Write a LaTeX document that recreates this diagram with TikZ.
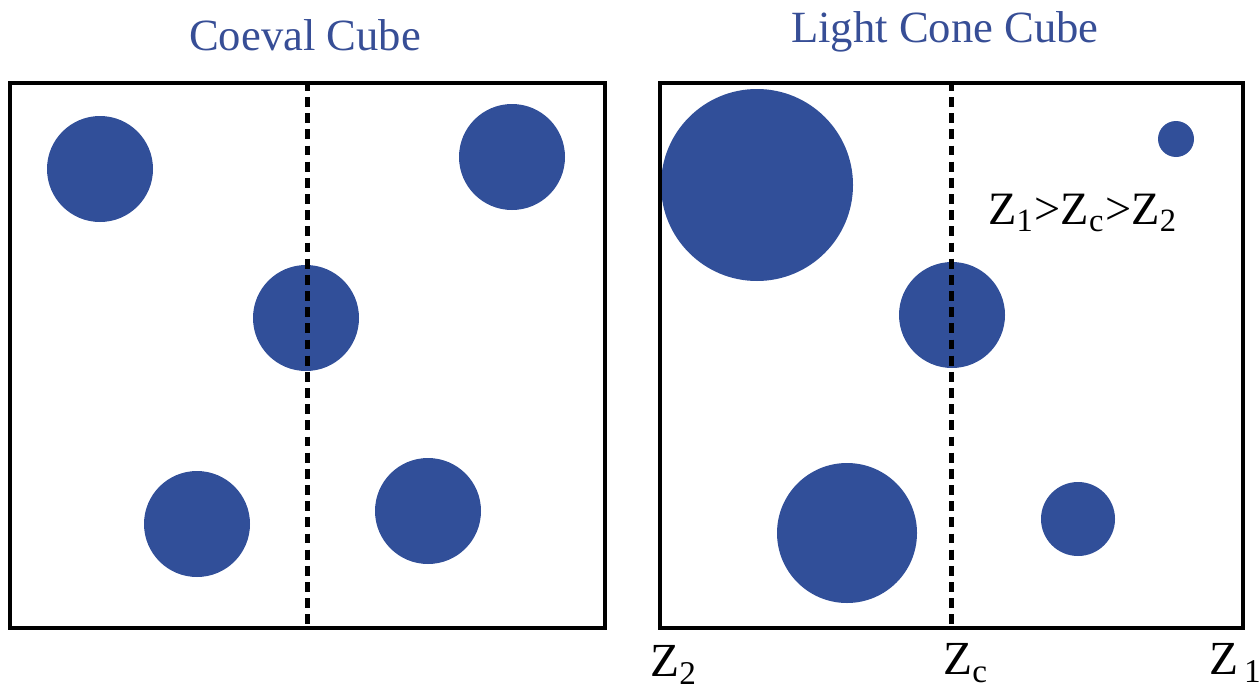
\documentclass[tikz,border=0pt]{standalone}
\usepackage{fontspec}
\setmainfont{Liberation Serif}
\usetikzlibrary{positioning}
\definecolor{cBlob}{RGB}{49,79,153}
\definecolor{cTitle}{RGB}{55,78,150}
\tikzset{
	cubebox/.style={rectangle, draw=black, line width=1.2pt, minimum width=#1, minimum height=5.45cm, inner sep=0pt},
	blob/.style={circle, fill=cBlob, inner sep=0pt, minimum size=#1},
	zcut/.style={line width=1.2pt, dash pattern=on 2.8pt off 1.8pt},
	heading/.style={font=\fontsize{12.7}{14}\selectfont, text=cTitle},
	zlabel/.style={font=\fontsize{13.5}{15}\selectfont},
}
\begin{document}
\begin{tikzpicture}
	\useasboundingbox (0,0) rectangle (12.59,6.92);
	% halos in both cubes
	\foreach \px/\py/\d/\nm in {1.00/5.23/1.06/a1, 5.12/5.35/1.06/a2, 3.06/3.74/1.06/a3, 1.97/1.68/1.06/a4, 4.28/1.81/1.06/a5,
		7.57/5.07/1.92/b1, 11.76/5.53/0.36/b2, 9.52/3.77/1.06/b3, 8.47/1.59/1.40/b4, 10.78/1.73/0.74/b5} {
		\node[blob=\d cm] (\nm) at (\px,\py) {};
	}
	\node[cubebox=5.95cm] (coeval) at (3.075,3.365) {};
	\node[cubebox=5.83cm] (lightcone) at (9.515,3.365) {};
	\draw[zcut] (coeval.north) -- (coeval.south);
	\draw[zcut] (lightcone.north) -- (lightcone.south);
	\node[heading] (tcoeval) at (3.05,6.57) {Coeval Cube};
	\node[heading] (tlightcone) at (9.45,6.60) {Light Cone Cube};
	\node[font=\fontsize{13.2}{15}\selectfont] (order) at (10.83,4.79) {Z\textsubscript{1}>Z\textsubscript{c}>Z\textsubscript{2}};
	\node[zlabel] (ztwo) at (6.74,0.27) {Z\textsubscript{2}};
	\node[zlabel] (zc) at (9.66,0.29) {Z\textsubscript{c}};
	\node[zlabel] (zone) at (12.36,0.29) {Z\textsubscript{\,1}};
\end{tikzpicture}
\end{document}
